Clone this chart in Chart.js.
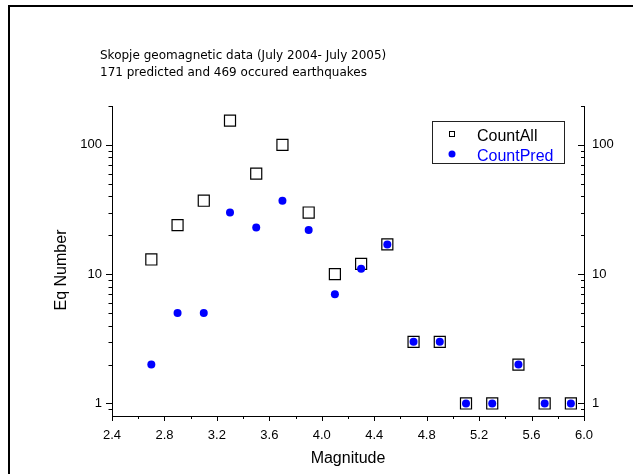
<!DOCTYPE html>
<html>
<head>
<meta charset="utf-8">
<script src="https://cdn.jsdelivr.net/npm/chart.js@4.4.1/dist/chart.umd.min.js"></script>
<style>
    html, body { margin: 0; padding: 0; background: #fff; }
</style>
</head>
<body>
<canvas id="eq-chart" width="633" height="475"></canvas>
<script>
// data
const magnitudes = [2.7, 2.9, 3.1, 3.3, 3.5, 3.7, 3.9, 4.1, 4.3, 4.5, 4.7, 4.9, 5.1, 5.3, 5.5, 5.7, 5.9];
const countAll = [13, 24, 37, 154, 60, 100, 30, 10, 12, 17, 3, 3, 1, 1, 2, 1, 1];
const countPred = [2, 5, 5, 30, 23, 37, 22, 7, 11, 17, 3, 3, 1, 1, 2, 1, 1];

const xTicks = [2.4, 2.6, 2.8, 3.0, 3.2, 3.4, 3.6, 3.8, 4.0, 4.2, 4.4, 4.6, 4.8, 5.0, 5.2, 5.4, 5.6, 5.8, 6.0];
const xTickLabels = ['2.4', '2.8', '3.2', '3.6', '4.0', '4.4', '4.8', '5.2', '5.6', '6.0'];
const yTicks = [0.9, 1, 2, 3, 4, 5, 6, 7, 8, 9, 10, 20, 30, 40, 50, 60, 70, 80, 90, 100, 200];
const yTickLabels = [1, 10, 100];

const titleLines = [
    'Skopje geomagnetic data (July 2004- July 2005)',
    '171 predicted and 469 occured earthquakes'
];
const xTitle = 'Magnitude';
const yTitle = 'Eq Number';
const seriesNames = ['CountAll', 'CountPred'];

const FONT = '"Liberation Sans", Arial, sans-serif';
Chart.defaults.font.family = FONT;
Chart.defaults.color = '#000';

const toPoints = (ys) => magnitudes.map((m, i) => ({ x: m, y: ys[i] }));

const yLabel = (v) => yTickLabels.includes(v) ? String(v) : '';

const decorations = {
    id: 'decorations',
    beforeDraw(chart) {
        const ctx = chart.ctx;
        ctx.save();
        // outer frame (only top and left edges are in view)
        ctx.fillStyle = '#000';
        ctx.fillRect(8, 5, 633, 2);
        ctx.fillRect(8, 5, 2, 469);

        ctx.font = '12px "DejaVu Sans", Verdana, sans-serif';
        ctx.textBaseline = 'alphabetic';
        ctx.textAlign = 'left';
        ctx.fillText(titleLines[0], 100, 59);
        ctx.fillText(titleLines[1], 100, 76);
        ctx.restore();
    },
    afterDraw(chart) {
        const ctx = chart.ctx;
        const { x, y, y2 } = chart.scales;
        ctx.save();
        ctx.strokeStyle = '#000';
        ctx.lineWidth = 1;
        ctx.beginPath();
        x.ticks.forEach(t => {
            const px = Math.round(x.getPixelForValue(t.value)) + 0.5;
            const len = t.label ? 5 : 3;
            ctx.moveTo(px, x.top);
            ctx.lineTo(px, x.top + len);
        });
        y.ticks.forEach(t => {
            const py = Math.round(y.getPixelForValue(t.value)) + 0.5;
            const len = t.label ? 6 : 3.5;
            ctx.moveTo(y.right, py);
            ctx.lineTo(y.right - len, py);
        });
        y2.ticks.forEach(t => {
            const py = Math.round(y2.getPixelForValue(t.value)) + 0.5;
            const len = t.label ? 6 : 3;
            ctx.moveTo(y2.left, py);
            ctx.lineTo(y2.left - len, py);
        });
        ctx.stroke();

        // axis titles
        ctx.fillStyle = '#000';
        ctx.font = '16px ' + FONT;
        ctx.textAlign = 'center';
        ctx.textBaseline = 'middle';
        ctx.fillText(xTitle, (chart.chartArea.left + chart.chartArea.right) / 2, 459);
        ctx.save();
        ctx.translate(62, 270);
        ctx.rotate(-Math.PI / 2);
        ctx.fillText(yTitle, 0, 0);
        ctx.restore();

        // legend
        ctx.strokeStyle = '#222';
        ctx.strokeRect(432.5, 121.5, 132, 42);
        ctx.lineWidth = 1;
        ctx.strokeStyle = '#000';
        ctx.strokeRect(449.5, 131.5, 5, 5);
        ctx.fillStyle = '#0000ff';
        ctx.beginPath();
        ctx.arc(452, 154, 3.5, 0, Math.PI * 2);
        ctx.fill();
        ctx.textAlign = 'left';
        ctx.textBaseline = 'alphabetic';
        ctx.fillStyle = '#000';
        ctx.fillText(seriesNames[0], 477, 141);
        ctx.fillStyle = '#0000ff';
        ctx.fillText(seriesNames[1], 477, 161);
        ctx.restore();
    }
};

new Chart(document.getElementById('eq-chart'), {
    type: 'scatter',
    data: {
        datasets: [
            {
                label: seriesNames[0],
                data: toPoints(countAll),
                pointStyle: 'rect',
                pointRadius: 7.8,
                pointHoverRadius: 7.8,
                borderColor: '#000',
                backgroundColor: 'rgba(0,0,0,0)',
                borderWidth: 1.2,
                order: 2
            },
            {
                label: seriesNames[1],
                data: toPoints(countPred),
                pointStyle: 'circle',
                pointRadius: 4,
                pointHoverRadius: 4,
                borderColor: '#0000ff',
                backgroundColor: '#0000ff',
                borderWidth: 0,
                order: 1
            }
        ]
    },
    options: {
        responsive: false,
        animation: false,
        events: [],
        layout: {
            padding: { top: 106, left: 0, right: 0, bottom: 0 }
        },
        plugins: {
            legend: { display: false },
            tooltip: { enabled: false }
        },
        scales: {
            x: {
                type: 'linear',
                position: 'bottom',
                min: 2.4,
                max: 6.0,
                afterBuildTicks: s => { s.ticks = xTicks.map(v => ({ value: v })); },
                afterFit: s => { s.height = 59; },
                grid: { display: false, tickLength: 0 },
                border: { display: true, color: '#000', width: 1 },
                ticks: {
                    autoSkip: false,
                    maxRotation: 0,
                    padding: 12,
                    font: { size: 13 },
                    callback: v => xTickLabels.includes(v.toFixed(1)) ? v.toFixed(1) : ''
                }
            },
            y: {
                type: 'logarithmic',
                position: 'left',
                min: 0.8,
                max: 200,
                afterBuildTicks: s => { s.ticks = yTicks.map(v => ({ value: v })); },
                afterFit: s => { s.width = 112; },
                grid: { display: false, tickLength: 0 },
                border: { display: true, color: '#000', width: 1 },
                ticks: {
                    autoSkip: false,
                    padding: 10,
                    font: { size: 13 },
                    callback: yLabel
                }
            },
            y2: {
                type: 'logarithmic',
                position: 'right',
                min: 0.8,
                max: 200,
                afterBuildTicks: s => { s.ticks = yTicks.map(v => ({ value: v })); },
                afterFit: s => { s.width = 49; },
                grid: { display: false, tickLength: 0 },
                border: { display: true, color: '#000', width: 1 },
                ticks: {
                    autoSkip: false,
                    padding: 8,
                    font: { size: 13 },
                    callback: yLabel
                }
            }
        }
    },
    plugins: [decorations]
});
</script>
</body>
</html>
